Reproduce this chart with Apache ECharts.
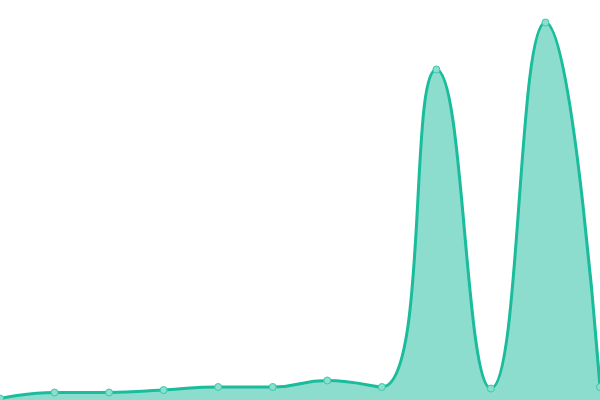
<!DOCTYPE html>
<html lang="en">
<head>
    <meta charset="UTF-8">
    <title>Area</title>
    <style>html,body{margin:0;padding:0;background:#fff;}</style>
</head>
<body>
    <div id="main" style="width: 600px;height:400px;"></div>
    <script src="https://cdn.jsdelivr.net/npm/echarts@6/dist/echarts.min.js"></script>
    <script type="text/javascript">
        var categories = ['1', '2', '3', '4', '5', '6', '7', '8', '9', '10', '11', '12'];
        var values = [1.5, 7.5, 7.5, 10, 13, 13, 19.5, 13, 330.5, 11.5, 377.5, 13];
        var YMAX = 400;

        var myChart = echarts.init(document.getElementById('main'));
        var option = {
            animation: false,
            grid: { left: 0, right: 0, top: 0, bottom: 0 },
            xAxis: {
                type: 'category',
                data: categories,
                boundaryGap: false,
                show: false
            },
            yAxis: {
                type: 'value',
                min: 0,
                max: YMAX,
                show: false
            },
            series: [{
                type: 'line',
                data: values,
                smooth: true,
                symbol: 'circle',
                symbolSize: 7,
                lineStyle: { color: '#1abc9c', width: 3 },
                itemStyle: { color: '#8ae0cf', borderColor: '#3cc8a8', borderWidth: 1 },
                areaStyle: { color: '#1abc9c', opacity: 0.5 }
            }]
        };
        myChart.setOption(option);
    </script>
</body>
</html>
